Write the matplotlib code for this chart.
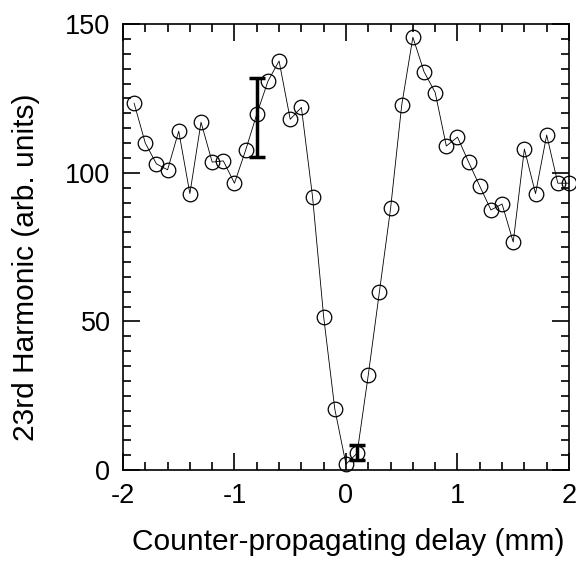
import matplotlib.pyplot as plt
from matplotlib.ticker import MultipleLocator

plt.rcParams['font.family'] = ['Liberation Sans', 'DejaVu Sans']

delay = [-1.9, -1.8, -1.7, -1.6, -1.5, -1.4, -1.3, -1.2, -1.1, -1.0,
         -0.9, -0.8, -0.7, -0.6, -0.5, -0.4, -0.3, -0.2, -0.1, 0.0,
         0.1, 0.2, 0.3, 0.4, 0.5, 0.6, 0.7, 0.8, 0.9, 1.0,
         1.1, 1.2, 1.3, 1.4, 1.5, 1.6, 1.7, 1.8, 1.9, 2.0]
signal = [123.4, 110, 103, 101, 114, 93, 117, 103.6, 104, 96.5,
          107.6, 119.7, 130.8, 137.6, 118, 122, 92, 51.5, 20.5, 2,
          5.7, 32, 60, 88, 122.8, 145.6, 134, 127, 109, 112,
          103.6, 95.5, 87.5, 89.5, 76.7, 108, 93, 112.7, 96.5, 96.5]

# representative error bars
err_x = [-0.8, 0.1]
err_y = [118.6, 5.9]
err_size = [13.3, 2.5]

fig = plt.figure(figsize=(5.76, 5.61), dpi=100)
ax = fig.add_axes([0.2135, 0.162, 0.7743, 0.795])

ax.plot(delay, signal, color='black', lw=0.6, marker='o', ms=10.5,
        mfc='none', mec='black', mew=0.9, clip_on=False, zorder=3)
ax.errorbar(err_x, err_y, yerr=err_size, fmt='none', ecolor='black',
            elinewidth=2.5, capsize=6, capthick=2.5, zorder=4)

ax.set_xlim(-2, 2)
ax.set_ylim(0, 150)
ax.xaxis.set_major_locator(MultipleLocator(1))
ax.xaxis.set_minor_locator(MultipleLocator(0.2))
ax.yaxis.set_major_locator(MultipleLocator(50))
ax.yaxis.set_minor_locator(MultipleLocator(5))
ax.tick_params(which='both', direction='in', top=True, right=True,
               labelsize=19.5, width=1.2)
ax.tick_params(which='major', length=12, pad=9)
ax.tick_params(which='minor', length=6)
ax.xaxis.set_major_formatter(plt.FuncFormatter(lambda v, p: '%d' % v))
for s in ax.spines.values():
    s.set_linewidth(1.2)

ax.set_xlabel('Counter-propagating delay (mm)', fontsize=21.5)
ax.set_ylabel('23rd Harmonic (arb. units)', fontsize=21.5)
ax.xaxis.set_label_coords(0.505, -0.13)
ax.yaxis.set_label_coords(-0.185, 0.455)

fig.savefig('out.png', dpi=100)
